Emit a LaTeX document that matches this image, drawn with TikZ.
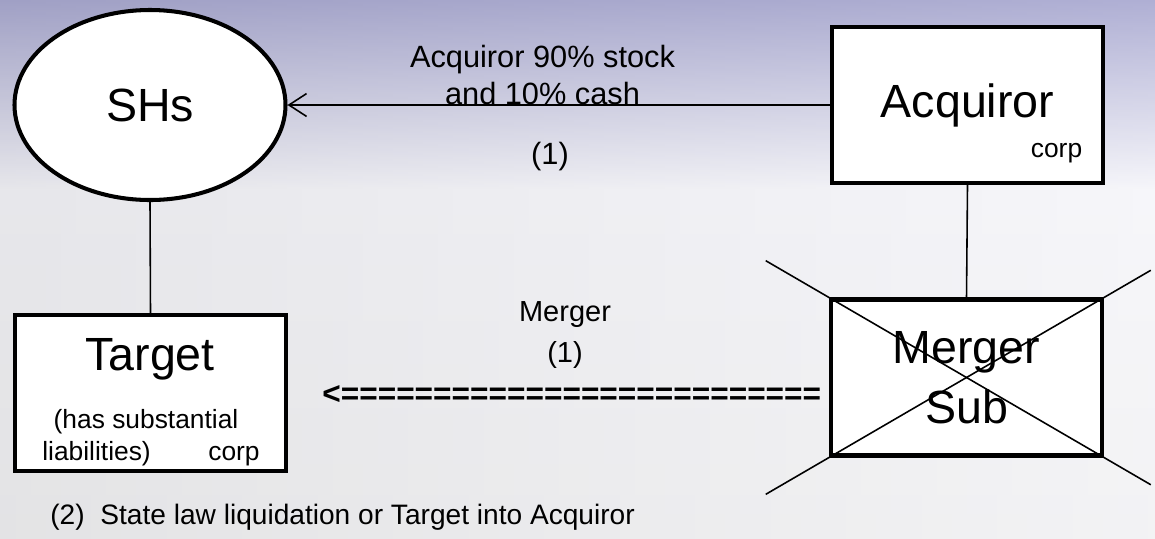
\documentclass[tikz,border=0pt]{standalone}
\usepackage{fontspec}
\setmainfont{Liberation Sans}
\usepackage{xcolor}
\usetikzlibrary{shapes,arrows.meta,positioning,calc}

\definecolor{bgtop}{RGB}{156,156,202}
\definecolor{bgmid}{RGB}{244,244,249}
\definecolor{bgbot}{RGB}{240,240,242}

\begin{document}
\begin{tikzpicture}[
    corp_box/.style={rectangle, draw=black, fill=white, minimum width=5.42cm, minimum height=3.12cm, line width=2.3pt, inner sep=0pt, font=\fontsize{26.5}{34}\selectfont, align=center},
    holder_ellipse/.style={ellipse, draw=black, fill=white, minimum width=5.42cm, minimum height=3.8cm, line width=2.3pt, inner sep=0pt, font=\fontsize{26.5}{32}\selectfont},
    note_text/.style={font=\fontsize{15}{18}\selectfont, inner sep=0pt},
    step_label/.style={font=\fontsize{17.5}{21}\selectfont, align=center},
    link_line/.style={line width=0.9pt, color=black},
    pay_arrow/.style={line width=0.9pt, -{Straight Barb[length=10pt,width=13pt]}},
    cross_line/.style={line width=0.9pt}
]

% Background
\shade[top color=bgtop, bottom color=bgmid] (0,0) rectangle (23.1,-3.8);
\shade[top color=bgmid, bottom color=bgbot] (0,-3.8) rectangle (23.1,-10.76);
\shade[left color=gray!60, right color=white, opacity=0.2] (0,0) rectangle (23.1,-10.76);
\useasboundingbox (0,0) rectangle (23.1,-10.76);

% Shareholders and the two corps
\node[holder_ellipse] (shs) at (3.0,-2.1) {SHs};
\node[corp_box] (acq) at (19.35,-2.1) {Acquiror};
\node[note_text, anchor=base east] (acq_corp) at ($(acq.south east)+(-0.45,0.55)$) {corp};

\node[corp_box] (target) at (3.01,-7.86) {};
\node[font=\fontsize{26.5}{32}\selectfont, anchor=base] (target_name) at (3.0,-7.4) {Target};
\node[note_text, anchor=base] (target_note) at (2.92,-8.56) {(has substantial};
\node[note_text, anchor=base west] (target_liab) at (0.84,-9.2) {liabilities)};
\node[note_text, anchor=base east] (target_corp) at (5.2,-9.2) {corp};

\node[corp_box] (msub) at (19.33,-7.55) {Merger\\Sub};

% Ownership links
\draw[link_line] (shs.south) -- (target.north);
\draw[link_line] (acq.south) -- (msub.north);

% Step (1): consideration
\draw[pay_arrow] (acq.west) -- (shs.east);
\node[step_label] (pay_text) at (10.85,-1.5) {Acquiror 90\% stock\\and 10\% cash};
\node[step_label] (pay_step) at (11.0,-3.13) {(1)};

% Step (1): merger
\node[font=\fontsize{16.5}{23}\selectfont, align=center] (merge_text) at (11.3,-6.7) {Merger\\(1)};
\node[font=\fontsize{18}{18}\selectfont\bfseries, anchor=east, inner sep=0pt] (merge_arrow) at ($(msub.west)+(-0.15,-0.35)$) {<==========================};

% Merger Sub disappears
\draw[cross_line] ($(msub.north west)!-0.23!(msub.south east)$) -- ($(msub.north west)!1.17!(msub.south east)$);
\draw[cross_line] ($(msub.south west)!-0.23!(msub.north east)$) -- ($(msub.south west)!1.17!(msub.north east)$);

% Step (2)
\node[font=\fontsize{16}{19}\selectfont, anchor=west, inner sep=0pt] (liquidation) at (1.0,-10.34) {(2)\ \ State law liquidation or Target into Acquiror};

\end{tikzpicture}
\end{document}
